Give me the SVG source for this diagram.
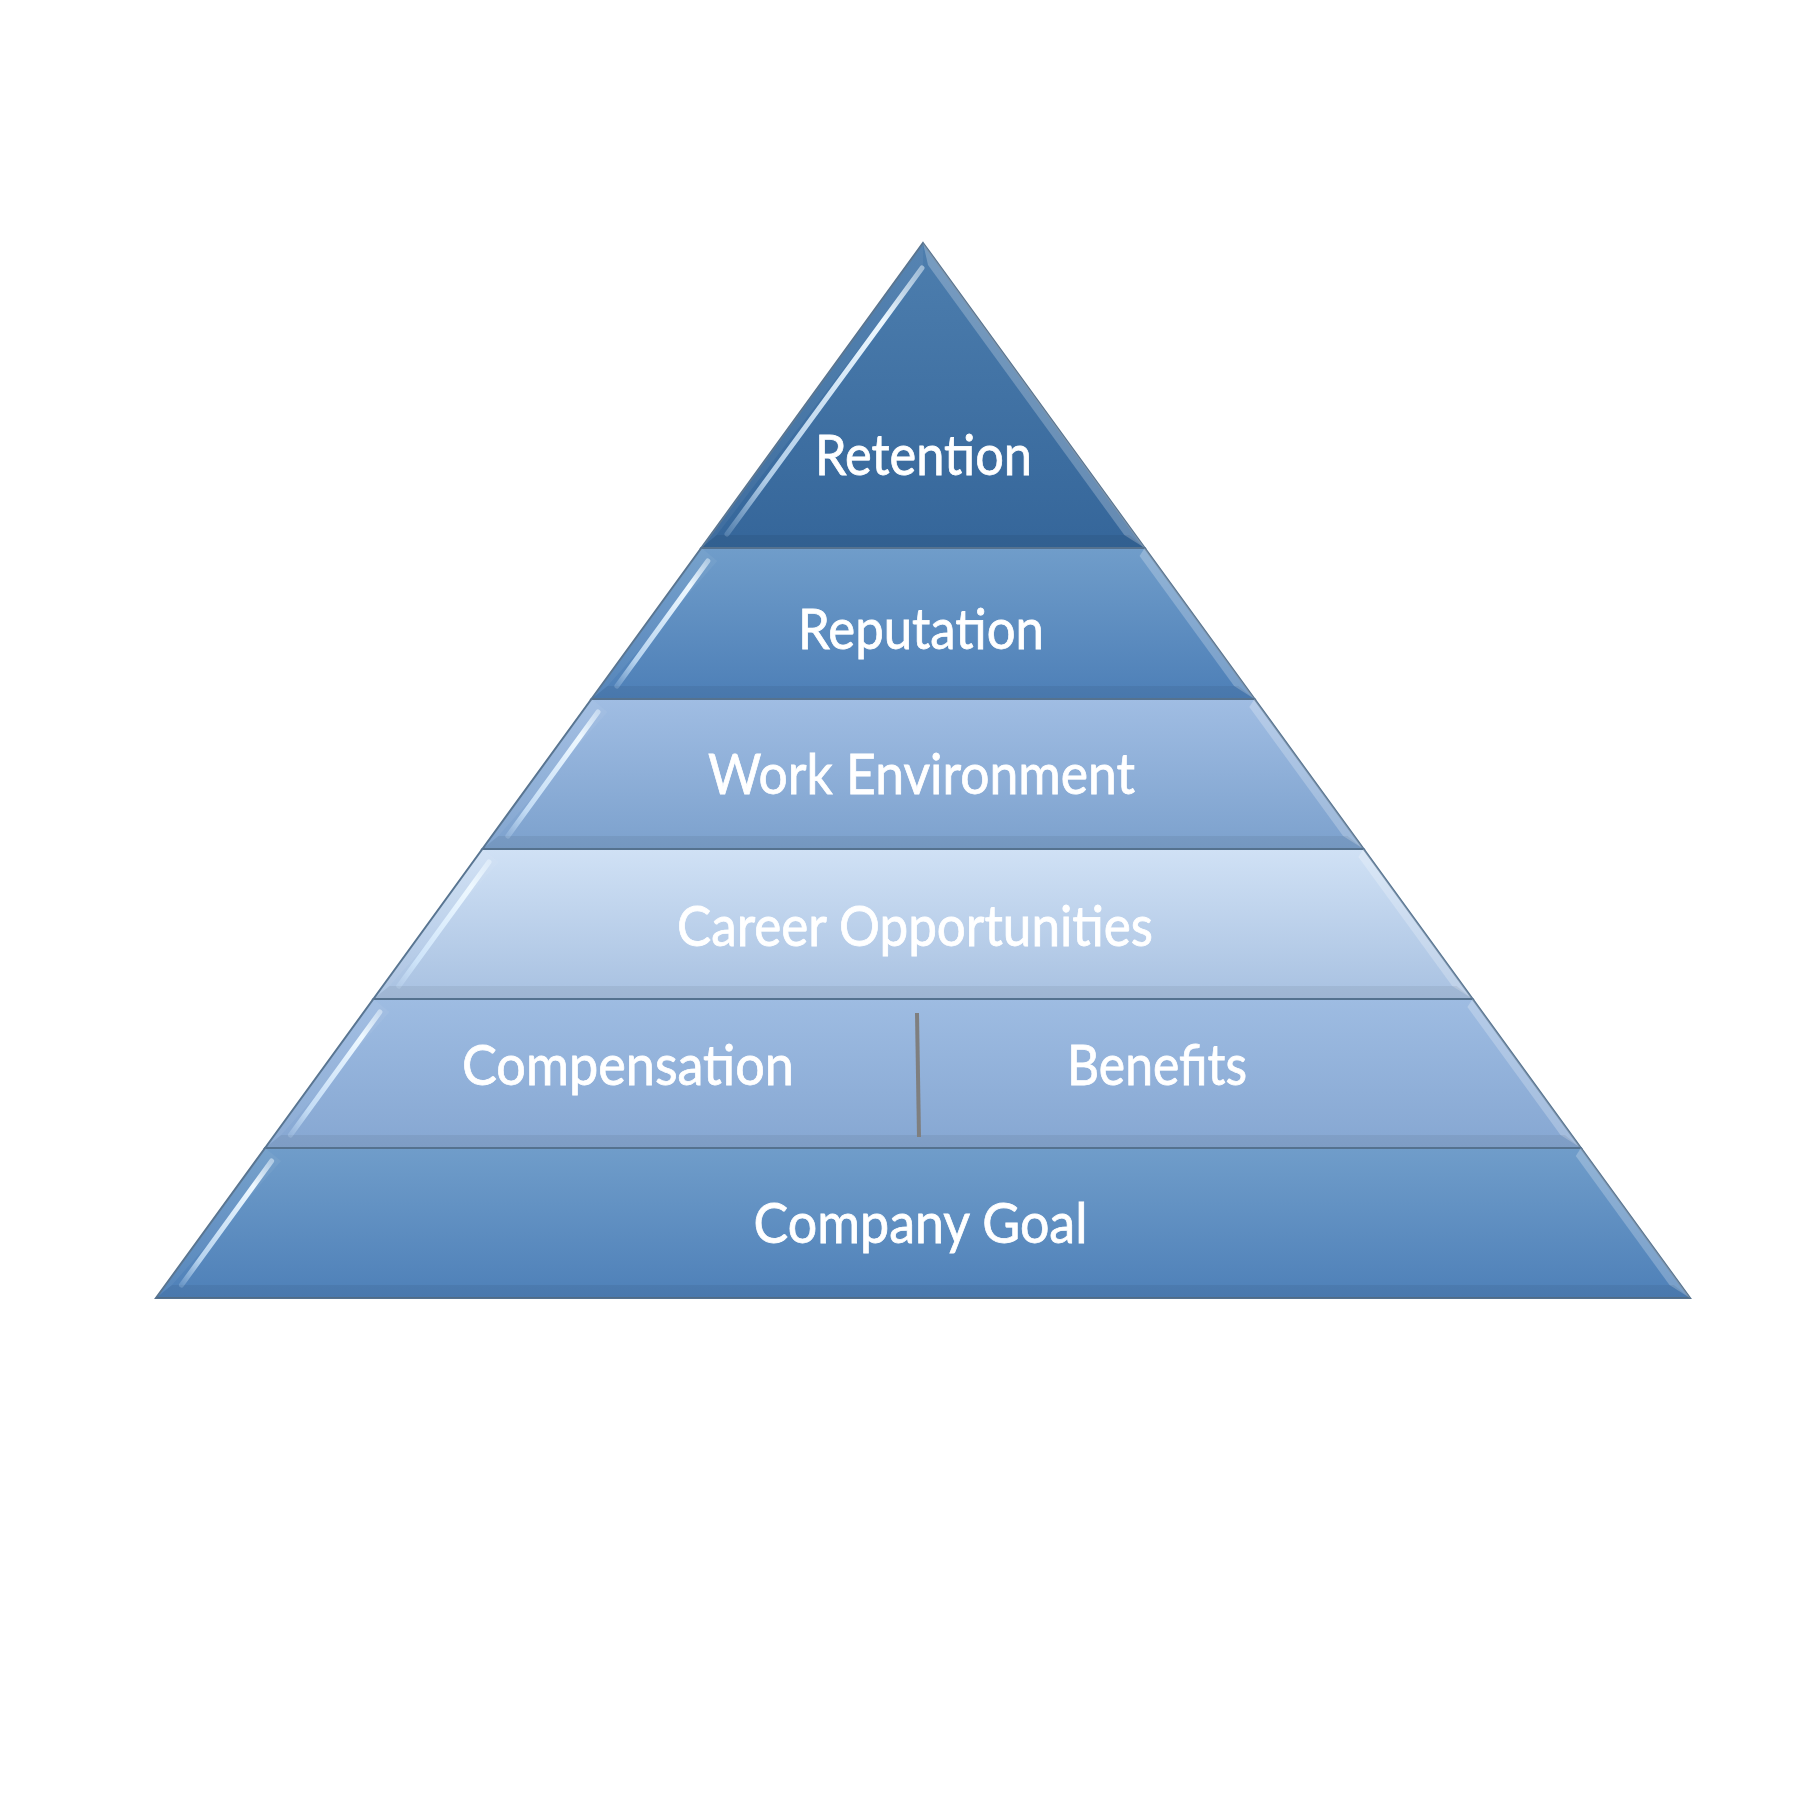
<svg xmlns="http://www.w3.org/2000/svg" width="1800" height="1800" viewBox="0 0 1800 1800">
  <defs>
    <linearGradient id="g1" x1="0" y1="0" x2="0" y2="1"><stop offset="0" stop-color="#4d7eae"/><stop offset="1" stop-color="#35669a"/></linearGradient>
    <linearGradient id="g2" x1="0" y1="0" x2="0" y2="1"><stop offset="0" stop-color="#709dca"/><stop offset="1" stop-color="#4d7fb7"/></linearGradient>
    <linearGradient id="g3" x1="0" y1="0" x2="0" y2="1"><stop offset="0" stop-color="#a0bde3"/><stop offset="1" stop-color="#7ca1cd"/></linearGradient>
    <linearGradient id="g4" x1="0" y1="0" x2="0" y2="1"><stop offset="0" stop-color="#d0e1f5"/><stop offset="1" stop-color="#a8c1e1"/></linearGradient>
    <linearGradient id="g5" x1="0" y1="0" x2="0" y2="1"><stop offset="0" stop-color="#9ebce2"/><stop offset="1" stop-color="#86a7d2"/></linearGradient>
    <linearGradient id="g6" x1="0" y1="0" x2="0" y2="1"><stop offset="0" stop-color="#709dca"/><stop offset="1" stop-color="#4e80b8"/></linearGradient>
    <linearGradient id="streak" x1="1" y1="0" x2="0" y2="1">
      <stop offset="0" stop-color="#eef8ff" stop-opacity="0.5"/>
      <stop offset="0.2" stop-color="#eef8ff" stop-opacity="1"/>
      <stop offset="0.8" stop-color="#d6ecff" stop-opacity="0.75"/>
      <stop offset="1" stop-color="#d6ecff" stop-opacity="0.2"/>
    </linearGradient>
  </defs>
  <style>
    .layer { stroke: #55728f; stroke-width: 2; stroke-linejoin: miter; }
    .lb { fill: #ffffff; fill-opacity: 0.05; }
    .rb { fill: #ffffff; fill-opacity: 0.24; }
    .bb { fill: #000000; fill-opacity: 0.06; }
    .hl { stroke: url(#streak); stroke-width: 5; stroke-linecap: round; fill: none; }
    .lbl { font-family: Lato, "Open Sans", "Liberation Sans", sans-serif; font-size: 57px; fill: #ffffff; stroke: #ffffff; stroke-width: 0.8; }
  </style>
  <rect width="1800" height="1800" fill="#ffffff"/>

  <g id="node-retention">
    <polygon class="layer" fill="url(#g1)" points="923,243 1144.7,548 701.3,548"/>
    <polygon class="lb" points="923,243 923,265 716.7,535 701.3,548"/>
    <polygon class="rb" points="923,243 1144.7,548 1124.3,535 928,265"/>
    <polygon class="bb" points="716.7,535 1129.3,535 1144.7,548 701.3,548"/>
    <line class="hl" x1="922" y1="268" x2="727" y2="534"/>
    <text class="lbl" x="815" y="475" textLength="217" lengthAdjust="spacingAndGlyphs">Retention</text>
  </g>

  <g id="node-reputation">
    <polygon class="layer" fill="url(#g2)" points="701.3,548 1144.7,548 1254.5,699 591.5,699"/>
    <polygon class="lb" points="701.3,548 717.3,561 607.5,686 591.5,699"/>
    <polygon class="rb" points="1144.7,548 1254.5,699 1234.1,686 1139.6,556"/>
    <polygon class="bb" points="607.5,686 1238.5,686 1254.5,699 591.5,699"/>
    <line class="hl" x1="707.8" y1="561" x2="616.9" y2="686"/>
    <text class="lbl" x="798" y="649" textLength="246" lengthAdjust="spacingAndGlyphs">Reputation</text>
  </g>

  <g id="node-work-environment">
    <polygon class="layer" fill="url(#g3)" points="591.5,699 1254.5,699 1363.6,849 482.4,849"/>
    <polygon class="lb" points="591.5,699 607.5,712 498.4,836 482.4,849"/>
    <polygon class="rb" points="1254.5,699 1363.6,849 1343.1,836 1249.3,707"/>
    <polygon class="bb" points="498.4,836 1347.6,836 1363.6,849 482.4,849"/>
    <line class="hl" x1="598" y1="712" x2="507.9" y2="836"/>
    <text class="lbl" x="708" y="794" textLength="427" lengthAdjust="spacingAndGlyphs">Work Environment</text>
  </g>

  <g id="node-career-opportunities">
    <polygon class="layer" fill="url(#g4)" points="482.4,849 1363.6,849 1472.6,999 373.4,999"/>
    <polygon class="lb" points="482.4,849 498.4,862 389.4,986 373.4,999"/>
    <polygon class="rb" points="1363.6,849 1472.6,999 1452.2,986 1358.4,857"/>
    <polygon class="bb" points="389.4,986 1456.6,986 1472.6,999 373.4,999"/>
    <line class="hl" x1="489" y1="862" x2="398.8" y2="986"/>
    <text class="lbl" x="677" y="946" textLength="476" lengthAdjust="spacingAndGlyphs">Career Opportunities</text>
  </g>

  <g id="node-compensation-benefits">
    <polygon class="layer" fill="url(#g5)" points="373.4,999 1472.6,999 1580.9,1148 265.1,1148"/>
    <polygon class="lb" points="373.4,999 389.4,1012 281.1,1135 265.1,1148"/>
    <polygon class="rb" points="1472.6,999 1580.9,1148 1560.5,1135 1467.4,1007"/>
    <polygon class="bb" points="281.1,1135 1564.9,1135 1580.9,1148 265.1,1148"/>
    <line class="hl" x1="379.9" y1="1012" x2="290.5" y2="1135"/>
    <text class="lbl" x="462" y="1085" textLength="332" lengthAdjust="spacingAndGlyphs">Compensation</text>
    <text class="lbl" x="1067" y="1085" textLength="180" lengthAdjust="spacingAndGlyphs">Benefits</text>
  </g>

  <g id="node-company-goal">
    <polygon class="layer" fill="url(#g6)" points="265.1,1148 1580.9,1148 1690,1298 156,1298"/>
    <polygon class="lb" points="265.1,1148 281.1,1161 172,1285 156,1298"/>
    <polygon class="rb" points="1580.9,1148 1690,1298 1669.5,1285 1575.8,1156"/>
    <polygon class="bb" points="172,1285 1674,1285 1690,1298 156,1298"/>
    <line class="hl" x1="271.6" y1="1161" x2="181.5" y2="1285"/>
    <text class="lbl" x="753.5" y="1243" textLength="334" lengthAdjust="spacingAndGlyphs">Company Goal</text>
  </g>

  <g id="connectors">
    <line x1="917" y1="1013" x2="919" y2="1137" stroke="#7f7f7f" stroke-width="4"/>
  </g>
</svg>
